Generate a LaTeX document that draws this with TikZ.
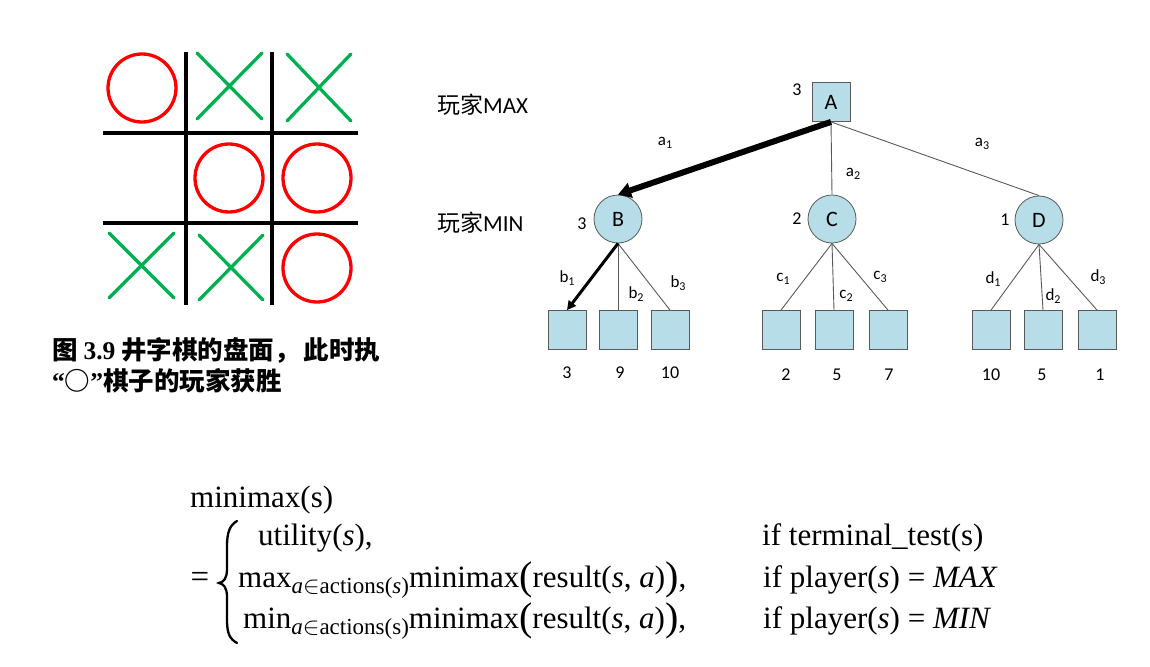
\documentclass[tikz,border=0pt]{standalone}
\usepackage{fontspec}
\setmainfont{Liberation Serif}
\newfontfamily\cjk{Noto Sans CJK SC}
\newfontfamily\calfont{Carlito}
\usetikzlibrary{arrows.meta}
\definecolor{leafblue}{HTML}{B7DDE8}
\definecolor{nodeborder}{HTML}{595959}
\definecolor{xgreen}{HTML}{00B050}
\definecolor{ored}{HTML}{FF0000}
\newcommand{\mi}[1]{{\itshape #1}}
\newcommand{\bigpar}[1]{{\fontsize{40}{40}\selectfont\raisebox{-2.5pt}{#1}}}
\newcommand{\subsc}[1]{\raisebox{-6pt}{\fontsize{23}{23}\selectfont #1}}
\newcommand{\lsub}[1]{\raisebox{-3.5pt}{\fontsize{12}{12}\selectfont #1}}
\begin{document}
\begin{tikzpicture}[x=1pt,y=-1pt,
  gridline/.style={line width=4pt,black},
  oring/.style={draw=ored,line width=3.3pt},
  xline/.style={draw=xgreen,line width=3.3pt,line cap=round},
  leafbox/.style={draw=nodeborder,fill=leafblue,minimum width=38pt,minimum height=39pt,inner sep=0pt,line width=0.8pt},
  maxbox/.style={draw=nodeborder,fill=leafblue,minimum width=38pt,minimum height=39pt,inner sep=0pt,line width=0.8pt,font=\calfont\fontsize{22}{22}\selectfont},
  minnode/.style={circle,draw=nodeborder,fill=leafblue,minimum size=48pt,inner sep=0pt,line width=0.8pt,font=\calfont\fontsize{22}{22}\selectfont},
  edgeline/.style={draw=nodeborder,line width=0.9pt},
  bestmove/.style={draw=black,line width=6pt,-{Triangle[length=13pt,width=15pt]}},
  bestleaf/.style={draw=black,line width=3pt,-{Triangle[length=9pt,width=9pt]}},
  vallabel/.style={font=\calfont\fontsize{18}{18}\selectfont,inner sep=0pt},
  elabel/.style={font=\calfont\fontsize{17}{17}\selectfont,inner sep=0pt},
  playerlabel/.style={font=\calfont\fontsize{23}{23}\selectfont,inner sep=0pt,anchor=west},
  captext/.style={font=\cjk\bfseries\fontsize{25.5}{25.5}\selectfont,inner sep=0pt,anchor=west},
  formula/.style={font=\fontsize{31}{31}\selectfont,inner sep=0pt,anchor=base west},
  bracestyle/.style={draw=black,line width=2.3pt,line cap=round}
]
\useasboundingbox (0,0) rectangle (1150,666);

% ---------- tic-tac-toe board ----------
\coordinate (v1t) at (186,52); \coordinate (v1b) at (186,305);
\coordinate (v2t) at (272,52); \coordinate (v2b) at (272,305);
\coordinate (h1l) at (103,133); \coordinate (h1r) at (358,133);
\coordinate (h2l) at (103,223); \coordinate (h2r) at (358,223);
\draw[gridline] (v1t) -- (v1b);
\draw[gridline] (v2t) -- (v2b);
\draw[gridline] (h1l) -- (h1r);
\draw[gridline] (h2l) -- (h2r);
\draw[oring] (142,88) circle (34);
\draw[oring] (229,178) circle (34);
\draw[oring] (317,178) circle (34);
\draw[oring] (317,268) circle (34);
\draw[xline] (197,53) -- (262,119); \draw[xline] (262,53) -- (197,119);
\draw[xline] (287,54) -- (351,121); \draw[xline] (351,54) -- (287,121);
\draw[xline] (109,233) -- (174,298); \draw[xline] (174,233) -- (109,298);
\draw[xline] (199,235) -- (263,300); \draw[xline] (263,235) -- (199,300);

% ---------- caption ----------
\node[captext] (cap1) at (52,350) {图 {\fontspec{Liberation Serif}\bfseries 3.9} 井字棋的盘面，\hspace{4pt}此时执};
\node[captext] (cap2) at (52,381) {{\fontspec{Liberation Serif}\bfseries “}○{\fontspec{Liberation Serif}\bfseries ”}棋子的玩家获胜};

% ---------- game tree ----------
\node[playerlabel] (pmax) at (437,105) {{\cjk 玩家}MAX};
\node[playerlabel] (pmin) at (437,223) {{\cjk 玩家}MIN};

\node[maxbox] (A) at (831,102) {A};
\node[minnode] (B) at (618,219) {B};
\node[minnode] (C) at (832,219) {C};
\node[minnode] (D) at (1039,220) {D};

\node[vallabel] (vA) at (797,90) {3};
\node[vallabel] (vB) at (582,224) {3};
\node[vallabel] (vC) at (797,219) {2};
\node[vallabel] (vD) at (1005,220) {1};

\node[leafbox] (b1) at (567,330) {};
\node[leafbox] (b2) at (618,330) {};
\node[leafbox] (b3) at (670,330) {};
\node[leafbox] (c1) at (781,330) {};
\node[leafbox] (c2) at (834,330) {};
\node[leafbox] (c3) at (888,330) {};
\node[leafbox] (d1) at (991,330) {};
\node[leafbox] (d2) at (1043,330) {};
\node[leafbox] (d3) at (1097,330) {};

\draw[edgeline] (A.south) -- (C.north);
\draw[edgeline] (A.south) -- (D.north);
\draw[bestmove] (A.south) -- (B.north);

\draw[edgeline] (B.south) -- (b2.north);
\draw[edgeline] (B.south) -- (b3.north);
\draw[bestleaf] (B.south) -- (b1.north);
\draw[edgeline] (C.south) -- (c1.north);
\draw[edgeline] (C.south) -- (c2.north);
\draw[edgeline] (C.south) -- (c3.north);
\draw[edgeline] (D.south) -- (d1.north);
\draw[edgeline] (D.south) -- (d2.north);
\draw[edgeline] (D.south) -- (d3.north);

\node[elabel] (la1) at (665,143) {a\lsub{1}};
\node[elabel] (la2) at (853,174) {a\lsub{2}};
\node[elabel] (la3) at (982,144) {a\lsub{3}};
\node[elabel] (lb1) at (567,278) {b\lsub{1}};
\node[elabel] (lb2) at (636,294) {b\lsub{2}};
\node[elabel] (lb3) at (678,283) {b\lsub{3}};
\node[elabel] (lc1) at (783,279) {c\lsub{1}};
\node[elabel] (lc2) at (846,296) {c\lsub{2}};
\node[elabel] (lc3) at (880,277) {c\lsub{3}};
\node[elabel] (ld1) at (993,279) {d\lsub{1}};
\node[elabel] (ld2) at (1053,296) {d\lsub{2}};
\node[elabel] (ld3) at (1098,277) {d\lsub{3}};

\node[vallabel] (vb1) at (567,373) {3};
\node[vallabel] (vb2) at (620,373) {9};
\node[vallabel] (vb3) at (670,373) {10};
\node[vallabel] (vc1) at (786,375) {2};
\node[vallabel] (vc2) at (837,375) {5};
\node[vallabel] (vc3) at (889,375) {7};
\node[vallabel] (vd1) at (991,375) {10};
\node[vallabel] (vd2) at (1042,375) {5};
\node[vallabel] (vd3) at (1100,375) {1};

% ---------- formula ----------
\node[formula] (f0) at (190,507) {minimax(s)};
\node[inner sep=0pt,font=\fontsize{33}{33}\selectfont] (feq) at (200,580) {=};
\draw[bracestyle] (237,521) .. controls (230,525) and (227,532) .. (227,546)
  -- (227,569) .. controls (227,578) and (224,582) .. (219,583)
  .. controls (224,584) and (227,588) .. (227,597)
  -- (227,620) .. controls (227,634) and (230,639) .. (237,643);
\node[formula] (f1) at (258,545) {utility(\mi{s}),};
\node[formula] (f2) at (238,587) {max\subsc{\mi{a}$\in$actions(\mi{s})}minimax\bigpar{(}result(\mi{s}, \mi{a})\bigpar{)},};
\node[formula] (f3) at (243,628) {min\subsc{\mi{a}$\in$actions(s)}minimax\bigpar{(}result(\mi{s}, \mi{a})\bigpar{)},};
\node[formula] (g1) at (762,545) {if terminal\_test(s)};
\node[formula] (g2) at (763,587) {if player(\mi{s}) = \mi{MAX}};
\node[formula] (g3) at (763,628) {if player(\mi{s}) = \mi{MIN}};
\end{tikzpicture}
\end{document}
